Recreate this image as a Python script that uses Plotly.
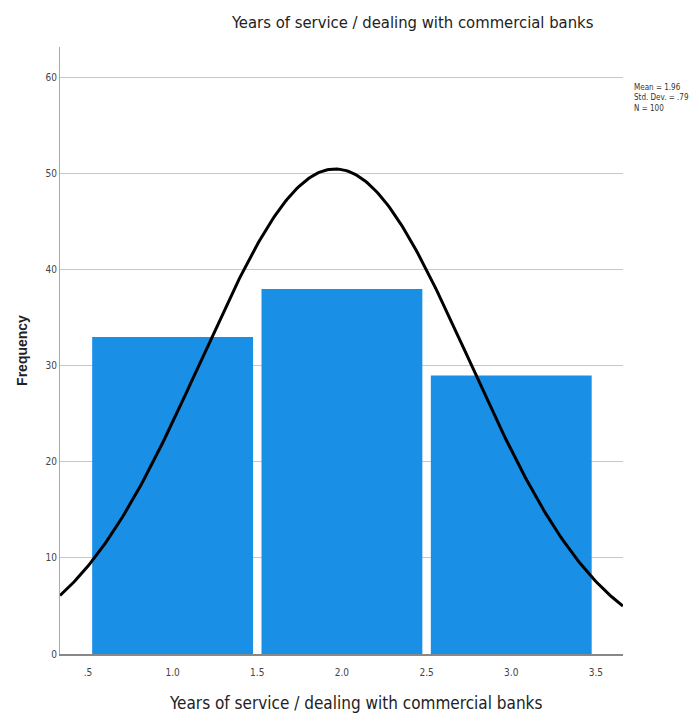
import numpy as np
import plotly.graph_objects as go

categories = [1, 2, 3]
frequencies = [33, 38, 29]
mean_val = 1.96
std_val = 0.79
n_val = 100
x_tickvals = [0.5, 1.0, 1.5, 2.0, 2.5, 3.0, 3.5]
x_ticktext = [".5", "1.0", "1.5", "2.0", "2.5", "3.0", "3.5"]
y_tickvals = [0, 10, 20, 30, 40, 50, 60]
title_text = "Years of service / dealing with commercial banks"

x_range = [0.335, 3.66]
y_range = [0, 63.2]

xs = np.linspace(x_range[0], x_range[1], 300)
ys = n_val * 1.0 * np.exp(-0.5 * ((xs - mean_val) / std_val) ** 2) / (std_val * np.sqrt(2 * np.pi))

FONT = "DejaVu Sans Condensed, Liberation Sans Narrow, Arial Narrow, sans-serif"

fig = go.Figure()
fig.add_trace(go.Bar(x=categories, y=frequencies, width=0.95,
                     marker=dict(color="#1a8fe6", line=dict(width=0)),
                     hoverinfo="skip"))
fig.add_trace(go.Scatter(x=xs, y=ys, mode="lines",
                         line=dict(color="black", width=3), hoverinfo="skip"))

fig.update_layout(
    width=691, height=719,
    margin=dict(l=52, r=76, t=39, b=73, autoexpand=False),
    paper_bgcolor="white", plot_bgcolor="white",
    showlegend=False,
    font=dict(family=FONT, color="#333"),
    xaxis=dict(range=x_range, tickvals=x_tickvals, ticktext=x_ticktext,
               showgrid=False, zeroline=False, showline=True, automargin=False,
               linecolor="#888", linewidth=2, ticks="",
               tickfont=dict(size=10, color="#444"), ticklabelstandoff=8),
    yaxis=dict(range=y_range, tickvals=y_tickvals, automargin=False,
               showgrid=True, gridcolor="#c8c8c8", gridwidth=1,
               zeroline=False, showline=True, linecolor="#aaa", linewidth=1,
               ticks="", tickfont=dict(size=10, color="#444"),
               title=dict(text="<b>Frequency</b>",
                          font=dict(size=14, color="#222", family="Liberation Sans, Arial, sans-serif"),
                          standoff=14)),
    annotations=[
        dict(text=title_text, xref="paper", yref="paper", x=(412 - 60) / 563, y=1.0,
             yshift=13, xanchor="center", yanchor="bottom", showarrow=False,
             font=dict(size=16.5, color="#222")),
        dict(text=title_text, xref="paper", yref="paper", x=(355 - 60) / 563, y=0,
             yshift=-37, xanchor="center", yanchor="top", showarrow=False,
             font=dict(size=17, color="#222")),
        dict(text="Mean = 1.96<br>Std. Dev. = .79<br>N = 100", xref="paper", yref="paper",
             x=1.0, xshift=9, y=1 - (98 - 47) / 607,
             xanchor="left", yanchor="middle", align="left", showarrow=False,
             font=dict(size=8, color="#333")),
    ],
)

fig.write_html("out.html")
